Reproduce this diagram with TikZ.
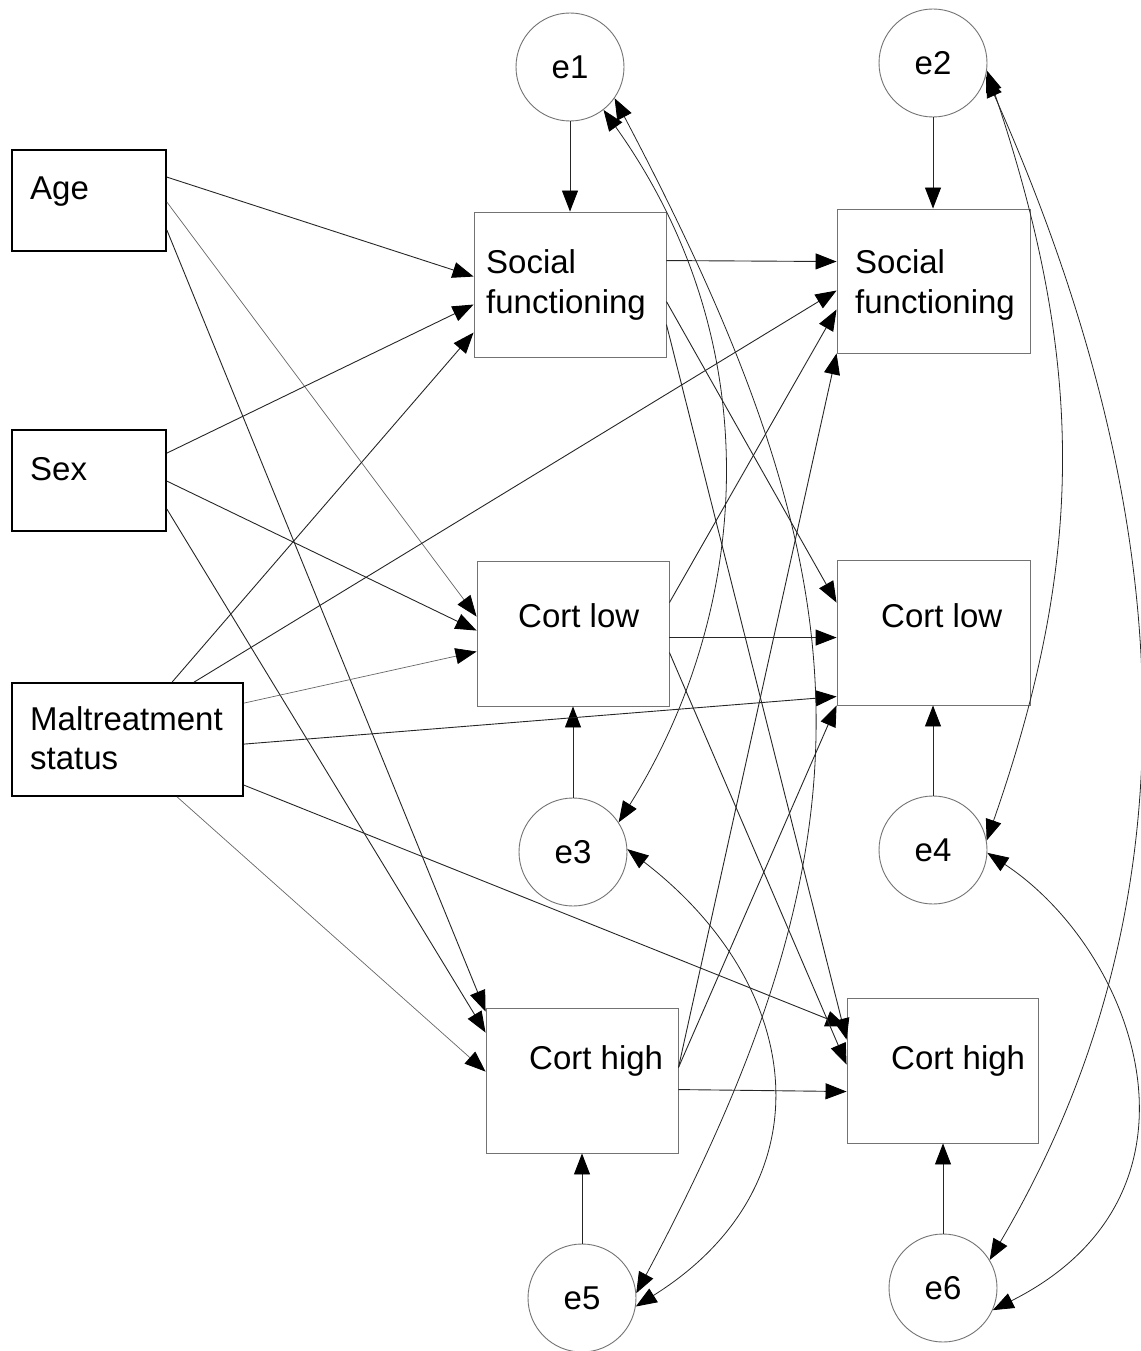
\documentclass[tikz,border=0pt]{standalone}
\usepackage{fontspec}
\setmainfont{Liberation Sans}
\usetikzlibrary{arrows.meta}

\begin{document}
\begin{tikzpicture}[x=1pt,y=-1pt,
  tip/.tip={Triangle[length=21pt,width=16pt,color=black]},
  exo/.style={draw=black,line width=1.8pt,inner sep=0pt,fill=white},
  endo/.style={draw=black!55,line width=0.9pt,inner sep=0pt,fill=white},
  err/.style={circle,draw=black!55,line width=0.9pt,inner sep=0pt,minimum size=108pt,fill=white,
    font=\fontsize{33}{40}\selectfont},
  lbl/.style={inner sep=0pt,anchor=base west,font=\fontsize{33}{40}\selectfont},
  path/.style={draw=black!85,line width=0.9pt,-tip},
  lightpath/.style={draw=black!60,line width=0.7pt,-tip},
  cov/.style={draw=black!85,line width=0.8pt,tip-tip},
]
\useasboundingbox (0,0) rectangle (1140,1351);

% observed predictors
\node[exo,minimum width=154pt,minimum height=101pt] (age) at (89,200.5) {};
\node[exo,minimum width=154pt,minimum height=101pt] (sex) at (89,480.5) {};
\node[exo,minimum width=231pt,minimum height=113pt] (mal) at (127.5,739.5) {};
\node[lbl] (agetxt) at (30,200) {Age};
\node[lbl] (sextxt) at (30,480) {Sex};
\node[lbl] (maltxt) at (30,730) {Maltreatment};
\node[lbl] (maltxtb) at (30,769) {status};

% outcomes, first wave
\node[endo,minimum width=192pt,minimum height=145pt] (sf1) at (570,284.5) {};
\node[endo,minimum width=192pt,minimum height=145pt] (cl1) at (573,633.5) {};
\node[endo,minimum width=192pt,minimum height=145pt] (ch1) at (582,1080.5) {};
\node[lbl] (sf1txt) at (486,273) {Social};
\node[lbl] (sf1txtb) at (486,313) {functioning};
\node[lbl] (cl1txt) at (518,627) {Cort low};
\node[lbl] (ch1txt) at (529,1069) {Cort high};

% outcomes, second wave
\node[endo,minimum width=193pt,minimum height=144pt] (sf2) at (933.5,281) {};
\node[endo,minimum width=193pt,minimum height=145pt] (cl2) at (933.5,632.5) {};
\node[endo,minimum width=191pt,minimum height=145pt] (ch2) at (942.5,1070.5) {};
\node[lbl] (sf2txt) at (855,273) {Social};
\node[lbl] (sf2txtb) at (855,313) {functioning};
\node[lbl] (cl2txt) at (881,627) {Cort low};
\node[lbl] (ch2txt) at (891,1069) {Cort high};

% residuals
\node[err] (e1) at (570,67) {e1};
\node[err] (e2) at (933,63) {e2};
\node[err] (e3) at (573,852) {e3};
\node[err] (e4) at (933,850) {e4};
\node[err] (e5) at (582,1298) {e5};
\node[err] (e6) at (943,1288) {e6};

% residual paths
\draw[path] (e1.south) -- (e1.south |- sf1.north);
\draw[path] (e2.south) -- (e2.south |- sf2.north);
\draw[path] (e3.north) -- (e3.north |- cl1.south);
\draw[path] (e4.north) -- (e4.north |- cl2.south);
\draw[path] (e5.north) -- (e5.north |- ch1.south);
\draw[path] (e6.north) -- (e6.north |- ch2.south);

% age
\draw[path] ([yshift=-28pt]age.north east) -- ([yshift=-65pt]sf1.north west);
\draw[lightpath] ([yshift=-53pt]age.north east) -- ([yshift=-56pt]cl1.north west);
\draw[path] ([yshift=-81pt]age.north east) -- ([yshift=-4pt]ch1.north west);

% sex
\draw[path] ([yshift=-24pt]sex.north east) -- ([yshift=-93pt]sf1.north west);
\draw[path] ([yshift=-52pt]sex.north east) -- ([yshift=-70pt]cl1.north west);
\draw[path] ([yshift=-80pt]sex.north east) -- ([yshift=-25pt]ch1.north west);

% maltreatment status
\draw[path] ([xshift=161pt]mal.north west) -- ([yshift=-121pt]sf1.north west);
\draw[path] ([xshift=183pt]mal.north west) -- ([yshift=-82pt]sf2.north west);
\draw[lightpath] ([yshift=-21pt]mal.north east) -- ([yshift=-91pt]cl1.north west);
\draw[path] ([yshift=-62pt]mal.north east) -- ([yshift=-137pt]cl2.north west);
\draw[path] ([yshift=-103pt]mal.north east) -- ([yshift=-29pt]ch2.north west);
\draw[lightpath] ([xshift=166pt]mal.south west) -- ([yshift=-64pt]ch1.north west);

% social functioning, first wave
\draw[path] ([yshift=-49pt]sf1.north east) -- ([yshift=-53pt]sf2.north west);
\draw[path] ([yshift=-90pt]sf1.north east) -- ([yshift=-43pt]cl2.north west);
\draw[path] ([yshift=-113pt]sf1.north east) -- ([yshift=-42pt]ch2.north west);

% cort low, first wave
\draw[path] ([yshift=-42pt]cl1.north east) -- ([yshift=-101pt]sf2.north west);
\draw[path] ([yshift=-77pt]cl1.north east) -- ([yshift=-78pt]cl2.north west);
\draw[path] ([yshift=-92pt]cl1.north east) -- ([yshift=-67pt]ch2.north west);

% cort high, first wave
\draw[path] ([yshift=-60pt]ch1.north east) -- (sf2.south west);
\draw[path] ([yshift=-60pt]ch1.north east) -- (cl2.south west);
\draw[path] ([yshift=-82pt]ch1.north east) -- ([yshift=-94pt]ch2.north west);

% residual covariances
\draw[cov] (e1.-52) .. controls (775,350) and (747,618) .. (e3.33);
\draw[cov] (e1.-35) .. controls (866,575) and (886,825) .. (e5.5);
\draw[cov] (e3.3) .. controls (808,988) and (828,1186) .. (e5.-9);
\draw[cov] (e2.-8) .. controls (1088,368) and (1083,564) .. (e4.10);
\draw[cov] (e2.-14) .. controls (1146,436) and (1231,851) .. (e6.31);
\draw[cov] (e4.-3) .. controls (1136,951) and (1224,1194) .. (e6.-24);
\end{tikzpicture}
\end{document}
